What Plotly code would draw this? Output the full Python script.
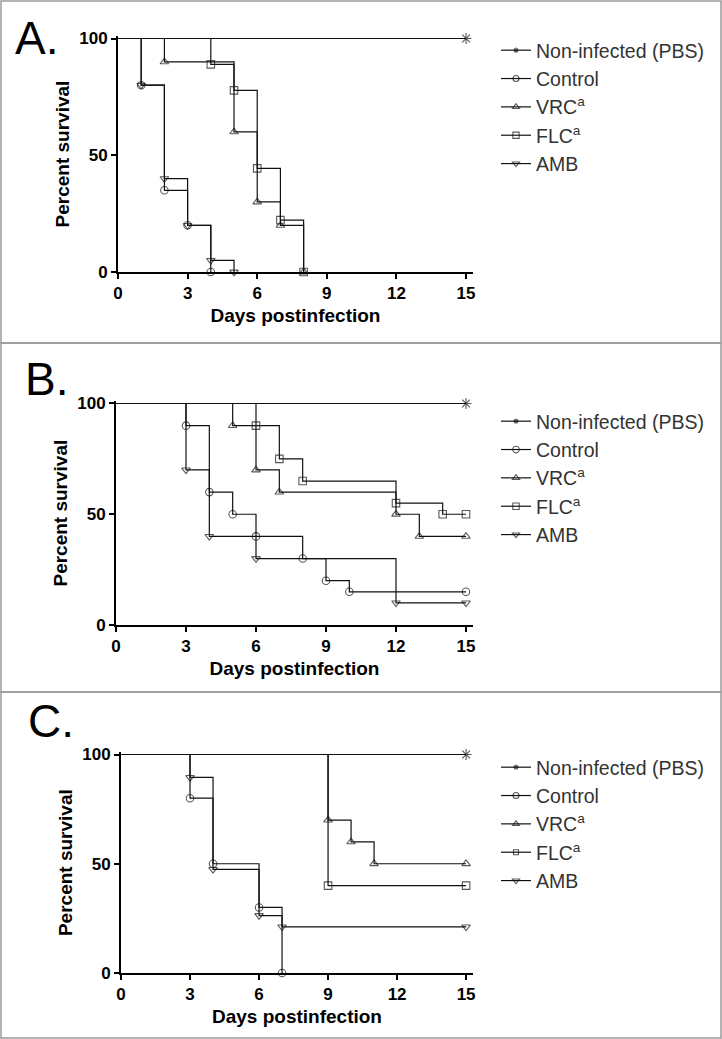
import plotly.graph_objects as go

W, H = 722, 1039

# ---------------- data ----------------
series_names = ["Non-infected (PBS)", "Control", "VRC<sup>a</sup>", "FLC<sup>a</sup>", "AMB"]
x_ticks = [0, 3, 6, 9, 12, 15]
y_ticks = [0, 50, 100]
panel_labels = ["A.", "B.", "C."]

# Panel A
a_pbs_days = [0, 15]
a_pbs_surv = [100, 100]
a_control_days = [0, 1, 2, 3, 4]
a_control_surv = [100, 80, 35, 20, 0]
a_vrc_days = [0, 2, 5, 6, 7, 8]
a_vrc_surv = [100, 90, 60, 30, 20, 0]
a_flc_days = [0, 4, 5, 6, 7, 8]
a_flc_surv = [100, 88.9, 77.8, 44.4, 22.2, 0]
a_amb_days = [0, 1, 2, 3, 4, 5]
a_amb_surv = [100, 80, 40, 20, 5, 0]

# Panel B
b_pbs_days = [0, 15]
b_pbs_surv = [100, 100]
b_control_days = [0, 3, 4, 5, 6, 8, 9, 10, 15]
b_control_surv = [100, 90, 60, 50, 40, 30, 20, 15, 15]
b_vrc_days = [0, 5, 6, 7, 12, 13, 15]
b_vrc_surv = [100, 90, 70, 60, 50, 40, 40]
b_flc_days = [0, 6, 7, 8, 12, 14, 15]
b_flc_surv = [100, 90, 75, 65, 55, 50, 50]
b_amb_days = [0, 3, 4, 6, 12, 15]
b_amb_surv = [100, 70, 40, 30, 10, 10]

# Panel C
c_pbs_days = [0, 15]
c_pbs_surv = [100, 100]
c_control_days = [0, 3, 4, 6, 7]
c_control_surv = [100, 80, 50, 30, 0]
c_vrc_days = [0, 9, 10, 11, 15]
c_vrc_surv = [100, 70, 60, 50, 50]
c_flc_days = [0, 9, 15]
c_flc_surv = [100, 40, 40]
c_amb_days = [0, 3, 4, 6, 7, 15]
c_amb_surv = [100, 89.5, 47.4, 26.3, 21.1, 21.1]

panels = [
    [(a_pbs_days, a_pbs_surv), (a_control_days, a_control_surv), (a_vrc_days, a_vrc_surv),
     (a_flc_days, a_flc_surv), (a_amb_days, a_amb_surv)],
    [(b_pbs_days, b_pbs_surv), (b_control_days, b_control_surv), (b_vrc_days, b_vrc_surv),
     (b_flc_days, b_flc_surv), (b_amb_days, b_amb_surv)],
    [(c_pbs_days, c_pbs_surv), (c_control_days, c_control_surv), (c_vrc_days, c_vrc_surv),
     (c_flc_days, c_flc_surv), (c_amb_days, c_amb_surv)],
]

# ---------------- styling / layout ----------------
symbols = ["asterisk-open", "circle-open", "triangle-up-open", "square-open", "triangle-down-open"]
FONT = "Arial, 'Liberation Sans', sans-serif"
INK = "#111111"

# pixel positions of value 100 (top) and value 0 (bottom) on each y axis
geom = [
    dict(box=(1, 343), left=118, top=38.5, bottom=272, leg_top=31, lab=(13, 38)),
    dict(box=(343, 692), left=116, top=403.5, bottom=625, leg_top=402, lab=(23, 379)),
    dict(box=(692, 1038), left=121, top=754.5, bottom=973, leg_top=748, lab=(26, 721)),
]
X_END = 473  # right end of x axis line (px)
XMAX = 15.3
YMAX = 101


def px(x):
    return x / W


def py(y):
    return 1 - y / H


fig = go.Figure()
layout = dict(
    template="none",
    width=W, height=H, margin=dict(l=0, r=0, t=0, b=0, autoexpand=False),
    paper_bgcolor="white", plot_bgcolor="white",
    font=dict(family=FONT, color=INK),
    showlegend=True,
)
shapes = []
annotations = []

for i, (series, g) in enumerate(zip(panels, geom)):
    n = i + 1
    xa = "x" if n == 1 else f"x{n}"
    ya = "y" if n == 1 else f"y{n}"
    leg = "legend" if n == 1 else f"legend{n}"
    for j, ((days, surv), name, sym) in enumerate(zip(series, series_names, symbols)):
        sizes = [0] + [7.5] * (len(days) - 1)
        if j == 0:
            sizes = [0] * (len(days) - 1) + [9]
        fig.add_trace(go.Scatter(
            x=days, y=surv, name=name, mode="lines+markers",
            line=dict(shape="hv", color=INK, width=1.2),
            marker=dict(symbol=sym, size=sizes, color=INK, line=dict(color=INK, width=1.1)),
            xaxis=xa, yaxis=ya, legend=leg, cliponaxis=False,
            legendgroup=f"{n}-{j}",
        ))
    span = g["bottom"] - g["top"]
    dom_top = g["top"] - span * (YMAX - 100) / 100
    axis_common = dict(
        showline=True, linewidth=2, linecolor="black", mirror=False,
        ticks="outside", ticklen=5, tickwidth=2, tickcolor="black",
        showgrid=False, zeroline=False, automargin=False,
        tickfont=dict(family=FONT, size=17, color="black", weight="bold"),
        fixedrange=True,
    )
    layout["xaxis" if n == 1 else f"xaxis{n}"] = dict(
        axis_common,
        domain=[px(g["left"]), px(X_END)], range=[0, XMAX],
        tickvals=x_ticks, ticktext=[str(t) for t in x_ticks],
        anchor=ya,
        title=dict(text="Days postinfection", standoff=6,
                   font=dict(family=FONT, size=19, color="black", weight="bold")),
    )
    layout["yaxis" if n == 1 else f"yaxis{n}"] = dict(
        axis_common,
        domain=[py(g["bottom"]), py(dom_top)], range=[0, YMAX],
        tickvals=y_ticks, ticktext=[str(t) for t in y_ticks],
        anchor=xa,
        title=dict(text="Percent survival", standoff=5,
                   font=dict(family=FONT, size=19, color="black", weight="bold")),
    )
    layout[leg] = dict(
        x=px(496), y=py(g["leg_top"]), xanchor="left", yanchor="top",
        bgcolor="rgba(0,0,0,0)", borderwidth=0, itemwidth=30,
        font=dict(family=FONT, size=19.5, color="#333333"),
        tracegroupgap=4, traceorder="normal",
    )
    top, bot = g["box"]
    shapes.append(dict(type="rect", xref="paper", yref="paper",
                       x0=px(1), x1=px(721), y0=py(bot), y1=py(top),
                       line=dict(color="#9a9a9a", width=1.5), fillcolor="rgba(0,0,0,0)", layer="below"))
    annotations.append(dict(
        text=panel_labels[i], xref="paper", yref="paper",
        x=px(g["lab"][0]), y=py(g["lab"][1]), xanchor="left", yanchor="middle",
        showarrow=False, font=dict(family=FONT, size=46, color="black"),
    ))

layout["shapes"] = shapes
layout["annotations"] = annotations
fig.update_layout(**layout)
fig.write_html(
    "out.html",
    config={"displayModeBar": False},
    post_script="document.body.style.margin='0';document.body.style.padding='0';"
                "document.body.style.overflow='hidden';",
)
